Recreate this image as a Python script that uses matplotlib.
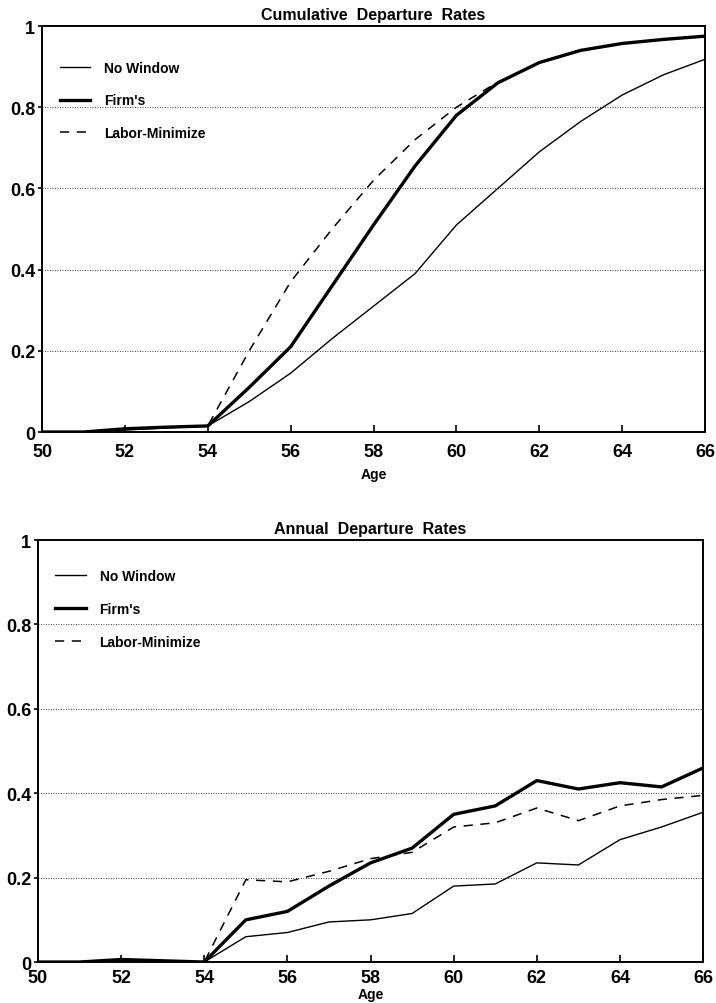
import matplotlib.pyplot as plt
import numpy as np

# ages on the x axis
ages = np.arange(50, 67)

# cumulative departure rates
cum_no_window = [0.0, 0.0, 0.005, 0.01, 0.015, 0.075, 0.145, 0.23, 0.31, 0.39,
                 0.51, 0.60, 0.69, 0.765, 0.83, 0.88, 0.918]
cum_firm = [0.0, 0.0, 0.008, 0.012, 0.015, 0.11, 0.21, 0.36, 0.51, 0.655,
            0.78, 0.86, 0.91, 0.94, 0.957, 0.967, 0.975]
cum_labor = [0.0, 0.0, 0.008, 0.012, 0.015, 0.20, 0.37, 0.50, 0.62, 0.72,
             0.80, 0.862, 0.91, 0.94, 0.957, 0.967, 0.975]

# annual departure rates
ann_no_window = [0.0, 0.0, 0.006, 0.003, 0.0, 0.06, 0.07, 0.095, 0.10, 0.115,
                 0.18, 0.185, 0.235, 0.23, 0.29, 0.32, 0.355]
ann_firm = [0.0, 0.0, 0.006, 0.003, 0.0, 0.10, 0.12, 0.18, 0.235, 0.27,
            0.35, 0.37, 0.43, 0.41, 0.425, 0.415, 0.46]
ann_labor = [0.0, 0.0, 0.006, 0.003, 0.0, 0.195, 0.19, 0.215, 0.245, 0.26,
             0.32, 0.33, 0.365, 0.335, 0.37, 0.385, 0.395]

series_names = ['No Window', "Firm's", 'Labor-Minimize']
xtick_vals = np.arange(50, 67, 2)
ytick_vals = [0, 0.2, 0.4, 0.6, 0.8, 1]
ytick_labels = ['0', '0.2', '0.4', '0.6', '0.8', '1']

plt.rcParams['font.family'] = ['Liberation Sans', 'DejaVu Sans']
plt.rcParams['font.weight'] = 'bold'

fig = plt.figure(figsize=(7.16, 10.04), dpi=100)
ax1 = fig.add_axes([0.0587, 0.5687, 0.926, 0.4044])
ax2 = fig.add_axes([0.053, 0.0408, 0.929, 0.4203])


def draw(ax, nw, firm, labor, title, xpad, lpad, legpad, legx):
    ax.plot(ages, nw, color='black', lw=1.0, label=series_names[0])
    ax.plot(ages, firm, color='black', lw=2.4, label=series_names[1])
    ax.plot(ages, labor, color='black', lw=1.1, ls=(0, (6, 5)), label=series_names[2])
    ax.set_xlim(50, 66)
    ax.set_ylim(0, 1)
    ax.set_xticks(xtick_vals)
    ax.set_yticks(ytick_vals)
    ax.set_yticklabels(ytick_labels)
    # dotted gridlines only at inner levels
    for yv in [0.2, 0.4, 0.6, 0.8]:
        ax.axhline(yv, color='black', lw=0.6, ls=(0, (1, 2)), zorder=0)
    ax.tick_params(axis='x', direction='in', length=5, width=1.2, labelsize=13, pad=xpad)
    ax.tick_params(axis='y', direction='out', length=3, width=1.2, labelsize=13, pad=2)
    for lab in ax.get_xticklabels() + ax.get_yticklabels():
        lab.set_fontweight('bold')
    for sp in ax.spines.values():
        sp.set_linewidth(1.4)
    ax.set_xlabel('Age', fontsize=10, fontweight='bold', labelpad=lpad)
    ax.set_title(title, fontsize=11.5, fontweight='bold', pad=5)
    leg = ax.legend(loc='upper left', bbox_to_anchor=(legx, 1.0), frameon=False,
                    fontsize=10, handlelength=2.2, handletextpad=1.0,
                    labelspacing=1.35, borderaxespad=legpad)
    for t in leg.get_texts():
        t.set_fontweight('bold')


draw(ax1, cum_no_window, cum_firm, cum_labor, 'Cumulative  Departure  Rates', 8, 5, 2.1, -0.026)
draw(ax2, ann_no_window, ann_firm, ann_labor, 'Annual  Departure  Rates', 5, 1, 1.7, -0.018)

plt.savefig('out.png', dpi=100)
